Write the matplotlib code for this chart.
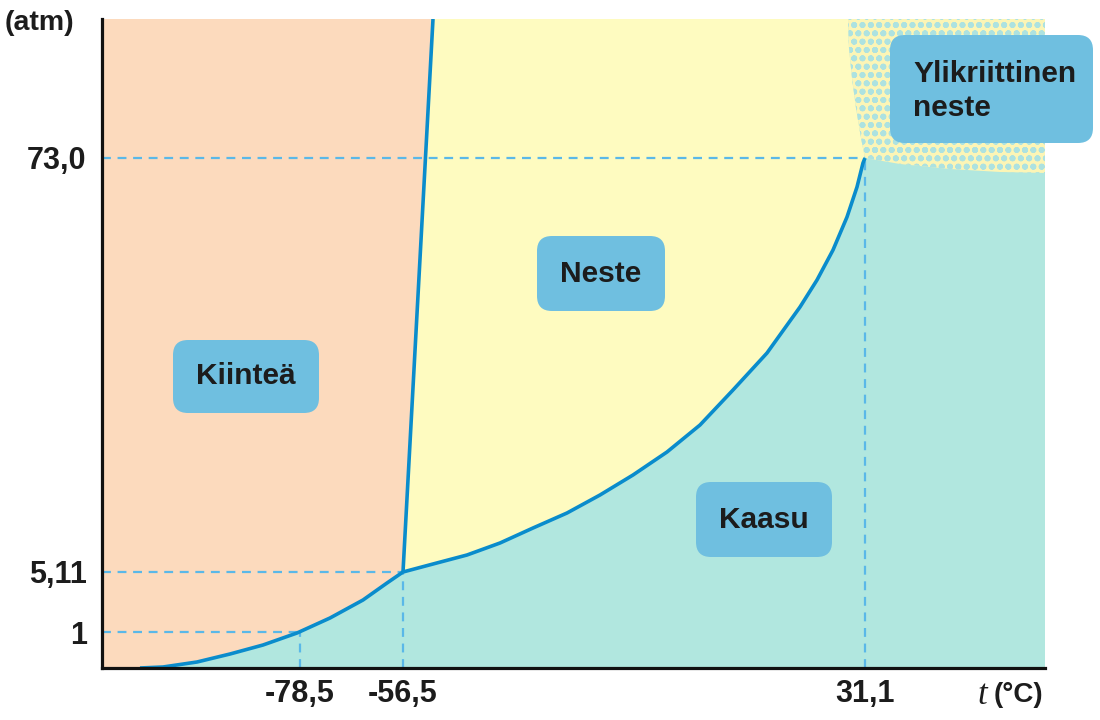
import matplotlib
matplotlib.use("Agg")
import matplotlib.pyplot as plt
from matplotlib.patches import Polygon, FancyBboxPatch

# ---------------- data (schematic diagram units) ----------------
x_ticks = [198, 301, 763]
x_labels = ["-78,5", "-56,5", "31,1"]
y_ticks = [36, 96, 510]
y_labels = ["1", "5,11", "73,0"]

# sublimation curve (solid / gas)
subl_x = [38, 61, 95, 128, 161, 195, 228, 261, 285, 301]
subl_y = [0, 1, 6, 14, 23, 35, 50, 68, 85, 96]
# melting line (solid / liquid)
melt_x = [301, 331]
melt_y = [96, 649]
# vaporisation curve (liquid / gas)
vap_x = [301, 331, 365, 398, 431, 465, 498, 531, 565, 598, 631, 665, 698, 715, 731, 745, 755, 761, 763]
vap_y = [96, 104, 113, 125, 140, 155, 173, 193, 216, 243, 278, 315, 361, 388, 418, 451, 481, 505, 510]
# supercritical region boundary
sc_left_x = [746, 747, 750, 754, 759, 763]
sc_left_y = [649, 620, 590, 560, 530, 510]
sc_bot_x = [763, 798, 848, 898, 943]
sc_bot_y = [510, 504, 499, 496, 495]

region_labels = ["Kiinteä", "Neste", "Kaasu", "Ylikriittinen\nneste"]

XMAX, YMAX = 943, 649

# ---------------- style ----------------
c_solid = "#fcdabd"
c_liquid = "#fefbc0"
c_gas = "#b1e7df"
c_line = "#0a8ccc"
c_dash = "#5ab8e8"
c_box = "#6fbfe0"
c_text = "#1c1c1c"

plt.rcParams['font.family'] = ['Liberation Sans', 'DejaVu Sans']
plt.rcParams['hatch.linewidth'] = 1.9
plt.rcParams['hatch.color'] = "#ade2e0"

fig = plt.figure(figsize=(11, 7.2), dpi=100)
ax = fig.add_axes([102 / 1100, 52 / 720, 943 / 1100, 649 / 720])
ax.set_xlim(0, XMAX)
ax.set_ylim(0, YMAX)

# gas background
ax.add_patch(Polygon([(0, 0), (XMAX, 0), (XMAX, YMAX), (0, YMAX)],
                     closed=True, facecolor=c_gas, edgecolor='none', zorder=0))

# solid region
solid_pts = [(0, YMAX), (melt_x[1], melt_y[1]), (melt_x[0], melt_y[0])]
solid_pts += list(zip(subl_x[::-1], subl_y[::-1]))
solid_pts += [(0, 0)]
ax.add_patch(Polygon(solid_pts, closed=True, facecolor=c_solid, edgecolor='none', zorder=1))

# liquid region
liq_pts = [(melt_x[1], melt_y[1]), (sc_left_x[0], sc_left_y[0])]
liq_pts += list(zip(sc_left_x[1:], sc_left_y[1:]))
liq_pts += list(zip(vap_x[::-1][1:], vap_y[::-1][1:]))
ax.add_patch(Polygon(liq_pts, closed=True, facecolor=c_liquid, edgecolor='none', zorder=1))

# supercritical region (dotted)
sc_pts = list(zip(sc_left_x, sc_left_y)) + list(zip(sc_bot_x[1:], sc_bot_y[1:]))
sc_pts += [(XMAX, YMAX)]
ax.add_patch(Polygon(sc_pts, closed=True, facecolor="#fcf5b6", edgecolor="#ade2e0",
                     linewidth=0, hatch='oo', zorder=1))

# dashed guide lines
dash_kw = dict(color=c_dash, lw=1.6, dashes=(4, 3), zorder=2)
for xt, yt in zip(x_ticks, y_ticks):
    ax.plot([0, xt], [yt, yt], **dash_kw)
    ax.plot([xt, xt], [0, yt], **dash_kw)

# phase boundaries
line_kw = dict(color=c_line, lw=2.6, solid_capstyle='butt', solid_joinstyle='round', zorder=3)
ax.plot(subl_x, subl_y, **line_kw)
ax.plot(melt_x, melt_y, **line_kw)
ax.plot(vap_x, vap_y, **line_kw)

# label boxes
boxes = [(71, 255, 146, 73), (435, 357, 128, 75), (594, 111, 136, 75), (788, 525, 203, 108)]
for (bx, by, bw, bh) in boxes:
    ax.add_patch(FancyBboxPatch((bx, by), bw, bh,
                                boxstyle="round,pad=0,rounding_size=15",
                                facecolor=c_box, edgecolor='none', zorder=4, clip_on=False))

txt_kw = dict(fontsize=21.5, fontweight='bold', color=c_text, zorder=5)
ax.text(144, 291.5, region_labels[0], ha='center', va='center', **txt_kw)
ax.text(499, 394.5, region_labels[1], ha='center', va='center', **txt_kw)
ax.text(662, 148.5, region_labels[2], ha='center', va='center', **txt_kw)
ax.text(811, 577, region_labels[3], ha='left', va='center', linespacing=1.25,
        clip_on=False, **txt_kw)

# axes styling
for s in ['top', 'right']:
    ax.spines[s].set_visible(False)
for s in ['left', 'bottom']:
    ax.spines[s].set_linewidth(2.3)
    ax.spines[s].set_color('#111111')
    ax.spines[s].set_zorder(6)

ax.set_xticks(x_ticks)
ax.set_xticklabels(x_labels)
ax.set_yticks(y_ticks)
ax.set_yticklabels(y_labels)
ax.tick_params(axis='both', length=0, labelsize=22, labelcolor=c_text)
ax.tick_params(axis='x', pad=8)
ax.tick_params(axis='y', pad=11)
for lab in ax.get_xticklabels() + ax.get_yticklabels():
    lab.set_fontweight('bold')

fig.text(5 / 1100, 1 - 23 / 720, "(atm)", ha='left', va='center',
         fontsize=20.5, fontweight='bold', color=c_text)
fig.text(1043 / 1100, 1 - 695 / 720, "(°C)", ha='right', va='center',
         fontsize=20, fontweight='bold', color=c_text)
fig.text(987 / 1100, 1 - 695 / 720, "t", ha='right', va='center',
         fontsize=25, style='italic', family=['Liberation Serif', 'DejaVu Serif'], color=c_text)

fig.savefig("out.png", dpi=100)
